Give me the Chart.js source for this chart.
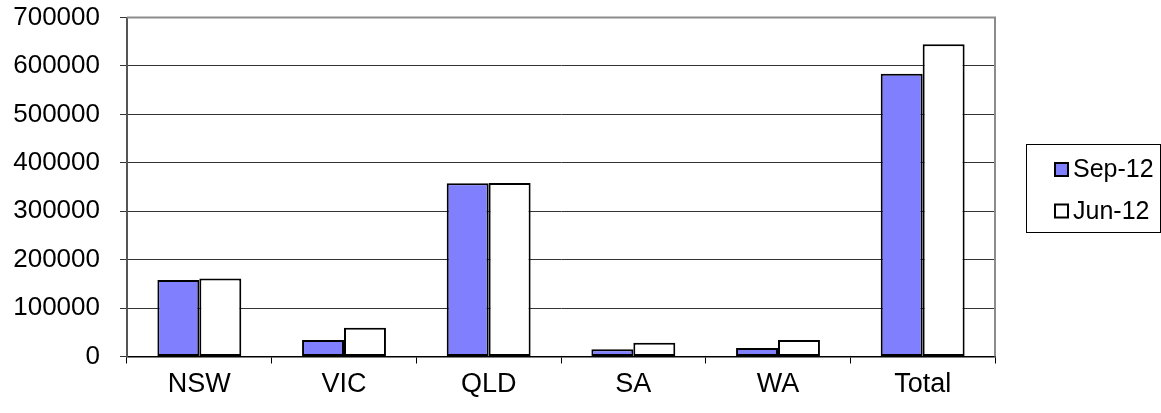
<!DOCTYPE html>
<html>
<head>
<meta charset="utf-8">
<script src="https://cdn.jsdelivr.net/npm/chart.js@4"></script>
<style>
html,body{margin:0;padding:0;background:#fff;}
#wrap{width:1161px;height:413px;position:relative;}
</style>
</head>
<body>
<div id="wrap"><canvas id="c"></canvas></div>
<script>
const categories = ["NSW", "VIC", "QLD", "SA", "WA", "Total"];
const sep12 = [158000, 34000, 358000, 15000, 17500, 584000];
const jun12 = [161000, 59500, 358500, 28500, 34000, 645000];
const seriesNames = ["Sep-12", "Jun-12"];

const FONT = '"Liberation Sans", Arial, sans-serif';

const frame = {
  id: 'frame',
  beforeDatasetsDraw(chart) {
    const {ctx, chartArea: a} = chart;
    ctx.save();
    ctx.strokeStyle = '#8c8c8c';
    ctx.lineWidth = 2;
    ctx.beginPath();
    ctx.moveTo(a.left, a.top); ctx.lineTo(a.right, a.top); ctx.lineTo(a.right, a.bottom);
    ctx.stroke();
    ctx.restore();
  },
  afterDraw(chart) {
    const {ctx} = chart;
    ctx.save();
    const bx = 1026, by = 144, bw = 134, bh = 88;
    ctx.fillStyle = '#fff';
    ctx.fillRect(bx, by, bw, bh);
    ctx.strokeStyle = '#000';
    ctx.lineWidth = 1;
    ctx.strokeRect(bx + 0.5, by + 0.5, bw, bh);
    ctx.font = '25px ' + FONT;
    ctx.textBaseline = 'middle';
    chart.data.datasets.forEach((ds, i) => {
      const cy = 169.5 + i * 41.5;
      ctx.fillStyle = ds.backgroundColor;
      ctx.fillRect(1055, cy - 6.5, 13, 13);
      ctx.strokeStyle = '#000';
      ctx.lineWidth = 2;
      ctx.strokeRect(1055, cy - 6.5, 13, 13);
      ctx.fillStyle = '#000';
      ctx.fillText(ds.label, 1073, cy + 1);
    });
    ctx.restore();
  }
};

new Chart(document.getElementById('c'), {
  type: 'bar',
  data: {
    labels: categories,
    datasets: [
      {label: seriesNames[0], data: sep12, backgroundColor: '#8080ff', borderColor: '#000', borderWidth: 2, borderSkipped: false},
      {label: seriesNames[1], data: jun12, backgroundColor: '#ffffff', borderColor: '#000', borderWidth: 2, borderSkipped: false}
    ]
  },
  options: {
    responsive: true,
    maintainAspectRatio: false,
    animation: false,
    datasets: {bar: {categoryPercentage: 0.58, barPercentage: 1.0}},
    layout: {padding: {left: 0, right: 166, top: 17.5, bottom: 0}},
    plugins: {legend: {display: false}, tooltip: {enabled: false}},
    scales: {
      x: {
        afterFit(s) { s.height = 56.5; s.paddingLeft = 0; s.paddingRight = 0; },
        grid: {offset: true, drawOnChartArea: false, drawTicks: true, tickLength: 7, color: '#000', lineWidth: 1},
        border: {color: '#000', width: 1.5},
        ticks: {color: '#000', font: {family: FONT, size: 27}, padding: 5}
      },
      y: {
        min: 0, max: 700000,
        afterFit(s) { s.width = 127; s.paddingTop = 0; s.paddingBottom = 0; },
        grid: {color: '#333', lineWidth: 1, drawTicks: true, tickLength: 7},
        border: {color: '#555', width: 2},
        ticks: {stepSize: 100000, color: '#000', font: {family: FONT, size: 26}, padding: 20,
          callback: v => String(v)}
      }
    }
  },
  plugins: [frame]
});
</script>
</body>
</html>
